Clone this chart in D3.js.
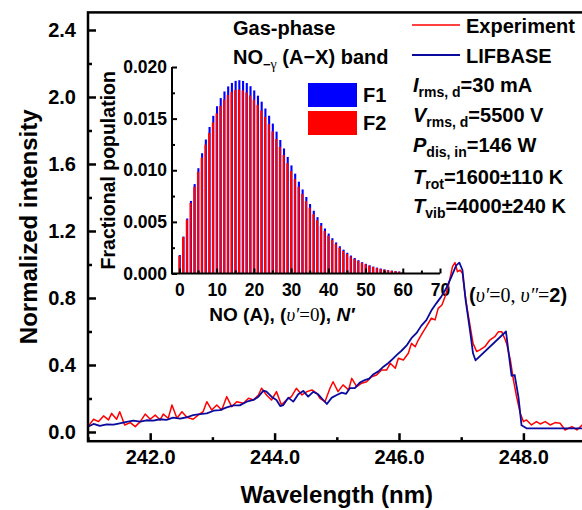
<!DOCTYPE html>
<html><head><meta charset="utf-8">
<script src="https://cdn.jsdelivr.net/npm/d3@7"></script>
<style>
body{margin:0;background:#fff;}
svg{display:block;}
text{font-family:"Liberation Sans",Arial,sans-serif;font-weight:bold;fill:#000;}
.serif{font-family:"Liberation Serif","DejaVu Serif",serif;font-weight:normal;}
</style></head><body>
<svg id="chart" width="582" height="510"></svg>
<script>
// ---- main spectrum axes ----
const wavelengthTicks = [242, 244, 246, 248];
const wavelengthMinorTicks = [241, 243, 245, 247, 249];
const intensityTicks = [0, 0.4, 0.8, 1.2, 1.6, 2.0, 2.4];
const intensityMinorTicks = [0.2, 0.6, 1.0, 1.4, 1.8, 2.2];

// ---- measured emission (Experiment) ----
const expWavelength = [241.00,241.09,241.17,241.25,241.33,241.38,241.46,241.51,241.59,241.68,241.76,241.84,241.92,242.00,242.08,242.16,242.21,242.29,242.35,242.43,242.51,242.59,242.69,242.77,242.85,242.91,242.99,243.07,243.15,243.23,243.31,243.39,243.50,243.58,243.66,243.74,243.79,243.87,243.95,244.03,244.11,244.19,244.27,244.35,244.44,244.52,244.60,244.68,244.73,244.81,244.89,244.94,245.02,245.10,245.19,245.24,245.32,245.40,245.48,245.56,245.64,245.72,245.80,245.86,245.94,245.99,246.07,246.15,246.20,246.26,246.31,246.39,246.44,246.52,246.58,246.63,246.69,246.74,246.79,246.82,246.86,246.90,246.94,246.98,247.02,247.06,247.10,247.14,247.19,247.25,247.30,247.38,247.46,247.54,247.60,247.65,247.71,247.73,247.79,247.84,247.89,247.95,248.00,248.05,248.13,248.21,248.27,248.35,248.43,248.51,248.59,248.67,248.78,248.86,248.94,249.00];
const expIntensity = [0.032,0.076,0.062,0.096,0.072,0.111,0.076,0.121,0.042,0.056,0.032,0.062,0.107,0.076,0.101,0.072,0.107,0.082,0.161,0.082,0.121,0.088,0.076,0.101,0.121,0.181,0.131,0.161,0.131,0.211,0.151,0.181,0.171,0.201,0.191,0.221,0.261,0.221,0.191,0.241,0.161,0.191,0.211,0.261,0.221,0.241,0.251,0.231,0.201,0.181,0.261,0.300,0.241,0.281,0.251,0.320,0.271,0.291,0.300,0.330,0.340,0.370,0.370,0.410,0.380,0.440,0.430,0.470,0.529,0.509,0.549,0.599,0.629,0.679,0.669,0.738,0.758,0.808,0.868,0.917,0.987,1.011,0.957,0.967,0.947,0.828,0.728,0.639,0.529,0.480,0.490,0.509,0.549,0.569,0.599,0.599,0.549,0.529,0.430,0.310,0.211,0.111,0.062,0.072,0.042,0.062,0.048,0.062,0.042,0.056,0.052,0.012,0.032,0.012,0.040,0.060];

// ---- simulated spectrum (LIFBASE) ----
const simWavelength = [241.00,241.09,241.19,241.30,241.41,241.51,241.62,241.73,241.84,241.94,242.05,242.16,242.26,242.37,242.48,242.59,242.69,242.80,242.91,243.02,243.12,243.23,243.34,243.44,243.55,243.66,243.74,243.82,243.87,243.95,244.03,244.09,244.14,244.22,244.30,244.38,244.46,244.54,244.62,244.70,244.76,244.84,244.92,245.00,245.08,245.15,245.21,245.29,245.37,245.45,245.52,245.59,245.67,245.75,245.83,245.90,245.97,246.04,246.12,246.20,246.28,246.36,246.44,246.52,246.60,246.68,246.76,246.84,246.92,246.97,247.02,247.07,247.14,247.19,247.23,247.72,247.76,247.81,247.86,247.92,247.97,248.05,249.00];
const simIntensity = [0.032,0.048,0.036,0.046,0.044,0.052,0.060,0.068,0.062,0.070,0.068,0.076,0.072,0.086,0.080,0.088,0.101,0.107,0.111,0.127,0.131,0.147,0.159,0.159,0.181,0.191,0.211,0.247,0.241,0.211,0.191,0.155,0.161,0.205,0.181,0.225,0.245,0.211,0.240,0.225,0.200,0.167,0.205,0.221,0.235,0.228,0.262,0.262,0.295,0.310,0.318,0.345,0.362,0.390,0.412,0.437,0.462,0.485,0.515,0.560,0.590,0.635,0.668,0.725,0.768,0.808,0.858,0.925,0.995,1.011,0.967,0.790,0.610,0.470,0.428,0.600,0.480,0.335,0.340,0.210,0.040,0.022,0.022];

// ---- inset: rotational population of NO(A), v'=0 ----
const rotN = d3.range(0, 61);
const popF1 = [0.00179,0.00358,0.00533,0.00703,0.00866,0.01020,0.01165,0.01298,0.01419,0.01527,0.01620,0.01699,0.01763,0.01812,0.01846,0.01866,0.01872,0.01865,0.01845,0.01814,0.01773,0.01722,0.01664,0.01598,0.01528,0.01452,0.01374,0.01293,0.01211,0.01129,0.01047,0.00967,0.00889,0.00814,0.00741,0.00673,0.00608,0.00546,0.00489,0.00436,0.00387,0.00342,0.00301,0.00264,0.00231,0.00201,0.00174,0.00150,0.00129,0.00110,0.00094,0.00080,0.00067,0.00057,0.00048,0.00040,0.00033,0.00028,0.00023,0.00019,0.00015];
const popF2 = [0.00172,0.00353,0.00522,0.00684,0.00840,0.00986,0.01123,0.01249,0.01362,0.01463,0.01551,0.01624,0.01684,0.01729,0.01760,0.01778,0.01782,0.01774,0.01754,0.01724,0.01684,0.01635,0.01579,0.01517,0.01449,0.01377,0.01302,0.01225,0.01147,0.01069,0.00992,0.00916,0.00842,0.00770,0.00702,0.00636,0.00575,0.00517,0.00463,0.00412,0.00366,0.00324,0.00285,0.00250,0.00218,0.00190,0.00164,0.00142,0.00122,0.00104,0.00089,0.00075,0.00064,0.00054,0.00045,0.00038,0.00031,0.00026,0.00022,0.00018,0.00014];
const rotTicks = [0, 10, 20, 30, 40, 50, 60, 70];
const rotMinorTicks = [5, 15, 25, 35, 45, 55, 65];
const popTicks = [0, 0.005, 0.010, 0.015, 0.020];
const popMinorTicks = [0.0025, 0.0075, 0.0125, 0.0175];

const svg = d3.select("#chart");

// main scales
const x = d3.scaleLinear().domain([241, 249]).range([88, 585.6]);
const y = d3.scaleLinear().domain([-0.055, 2.505]).range([441.2, 12.4]);

// inset scales
const ix = d3.scaleLinear().domain([-2, 70]).range([172, 440]);
const iy = d3.scaleLinear().domain([0, 0.02]).range([273.5, 67]);

// ---------- inset bars ----------
const inset = svg.append("g");
inset.selectAll("rect.f1").data(rotN).join("rect")
  .attr("x", n => ix(n) - 0.7).attr("width", 2.1)
  .attr("y", (n, i) => iy(popF1[i])).attr("height", (n, i) => iy(0) - iy(popF1[i]))
  .attr("fill", "#0000ff");
inset.selectAll("rect.f2").data(rotN).join("rect")
  .attr("x", n => ix(n) - 1.1).attr("width", 2.1)
  .attr("y", (n, i) => iy(popF2[i])).attr("height", (n, i) => iy(0) - iy(popF2[i]))
  .attr("fill", "#ff0000");

// inset axes (ticks point inward)
const ixAxis = inset.append("g").attr("transform", `translate(0,${iy(0)})`)
  .call(d3.axisBottom(ix).tickValues(rotTicks).tickSizeInner(-5).tickSizeOuter(0).tickPadding(10).tickFormat(d3.format("d")));
const ixMinor = inset.append("g").attr("transform", `translate(0,${iy(0)})`)
  .call(d3.axisBottom(ix).tickValues(rotMinorTicks).tickSizeInner(-3).tickSizeOuter(0).tickFormat(""));
const iyAxis = inset.append("g").attr("transform", `translate(${ix(-2)},0)`)
  .call(d3.axisLeft(iy).tickValues(popTicks).tickSizeInner(-5).tickSizeOuter(0).tickPadding(5).tickFormat(d3.format(".3f")));
const iyMinor = inset.append("g").attr("transform", `translate(${ix(-2)},0)`)
  .call(d3.axisLeft(iy).tickValues(popMinorTicks).tickSizeInner(-3).tickSizeOuter(0).tickFormat(""));
[ixAxis, ixMinor, iyAxis, iyMinor].forEach(g => {
  g.select(".domain").remove();
  g.selectAll(".tick line").attr("stroke", "#000").attr("stroke-width", 2);
  g.selectAll(".tick text").attr("font-size", 17.5).attr("font-family", null).attr("fill", "#000");
});
inset.append("path")
  .attr("d", `M${ix(-2)},${iy(0.02)}V${iy(0)}H${ix(70)}`)
  .attr("fill", "none").attr("stroke", "#000").attr("stroke-width", 2);

inset.append("text").attr("transform", `translate(115,${(iy(0) + iy(0.02)) / 2}) rotate(-90)`)
  .attr("text-anchor", "middle").attr("font-size", 19.5).text("Fractional population");
const ixTitle = inset.append("text").attr("x", 282).attr("y", 321)
  .attr("text-anchor", "middle").attr("font-size", 19);
ixTitle.append("tspan").text("NO (A), (");
ixTitle.append("tspan").attr("class", "serif").attr("font-style", "italic").text("υ′");
ixTitle.append("tspan").attr("class", "serif").text("=0");
ixTitle.append("tspan").text("), ");
ixTitle.append("tspan").attr("font-style", "italic").text("N′");

// F1 / F2 swatches
const swatches = [{label: "F1", color: "#0000ff", y: 83}, {label: "F2", color: "#ff0000", y: 111}];
swatches.forEach(s => {
  svg.append("rect").attr("x", 308).attr("y", s.y).attr("width", 49).attr("height", 24).attr("fill", s.color);
  svg.append("text").attr("x", 363).attr("y", s.y + 19).attr("font-size", 20).text(s.label);
});

// band title
svg.append("text").attr("x", 233).attr("y", 35).attr("font-size", 20).text("Gas-phase");
const band = svg.append("text").attr("x", 233).attr("y", 64).attr("font-size", 20);
band.append("tspan").text("NO");
band.append("tspan").attr("font-size", 13).attr("dy", 5).text("−");
band.append("tspan").attr("class", "serif").attr("font-size", 14).text("γ");
band.append("tspan").attr("dy", -5).text(" (A−X) band");

// ---------- main plot ----------
svg.append("clipPath").attr("id", "plotClip").append("rect")
  .attr("x", x(241)).attr("y", y(2.505)).attr("width", x(249) - x(241)).attr("height", y(-0.055) - y(2.505));

const line = d3.line().x(d => x(d[0])).y(d => y(d[1]));
const expData = expWavelength.map((w, i) => [w, expIntensity[i]]);
const simData = simWavelength.map((w, i) => [w, simIntensity[i]]);
const curves = svg.append("g").attr("clip-path", "url(#plotClip)");
curves.append("path").datum(expData).attr("d", line)
  .attr("fill", "none").attr("stroke", "#ff0000").attr("stroke-width", 1.5).attr("stroke-linejoin", "round");
curves.append("path").datum(simData).attr("d", line)
  .attr("fill", "none").attr("stroke", "#0a0a9e").attr("stroke-width", 1.8).attr("stroke-linejoin", "round");

// axes with inward ticks
const xAxis = svg.append("g").attr("transform", `translate(0,${y(-0.055)})`)
  .call(d3.axisBottom(x).tickValues(wavelengthTicks).tickSizeInner(-8).tickSizeOuter(0).tickPadding(9).tickFormat(d3.format(".1f")));
const xMinor = svg.append("g").attr("transform", `translate(0,${y(-0.055)})`)
  .call(d3.axisBottom(x).tickValues(wavelengthMinorTicks).tickSizeInner(-4).tickSizeOuter(0).tickFormat(""));
const yAxis = svg.append("g").attr("transform", `translate(${x(241)},0)`)
  .call(d3.axisLeft(y).tickValues(intensityTicks).tickSizeInner(-8).tickSizeOuter(0).tickPadding(12).tickFormat(d3.format(".1f")));
const yMinor = svg.append("g").attr("transform", `translate(${x(241)},0)`)
  .call(d3.axisLeft(y).tickValues(intensityMinorTicks).tickSizeInner(-4).tickSizeOuter(0).tickFormat(""));
[xAxis, xMinor, yAxis, yMinor].forEach(g => {
  g.select(".domain").remove();
  g.selectAll(".tick line").attr("stroke", "#000").attr("stroke-width", 2.5);
  g.selectAll(".tick text").attr("font-size", 20).attr("font-family", null).attr("fill", "#000");
});
svg.append("rect").attr("x", x(241)).attr("y", y(2.505)).attr("width", x(249) - x(241)).attr("height", y(-0.055) - y(2.505))
  .attr("fill", "none").attr("stroke", "#000").attr("stroke-width", 2.5);

svg.append("text").attr("x", (x(241) + x(249)) / 2).attr("y", 503).attr("text-anchor", "middle")
  .attr("font-size", 24).text("Wavelength (nm)");
svg.append("text").attr("transform", `translate(37,${(y(-0.055) + y(2.505)) / 2}) rotate(-90)`)
  .attr("text-anchor", "middle").attr("font-size", 24).text("Normalized intensity");

// legend
const legend = [{label: "Experiment", color: "#ff0000", w: 1.5, y: 25}, {label: "LIFBASE", color: "#0a0a9e", w: 1.8, y: 55}];
legend.forEach(l => {
  svg.append("line").attr("x1", 412).attr("x2", 460).attr("y1", l.y).attr("y2", l.y)
    .attr("stroke", l.color).attr("stroke-width", l.w);
  svg.append("text").attr("x", 466).attr("y", l.y + 8).attr("font-size", 20).text(l.label);
});

// discharge conditions and fitted temperatures
const conditions = [
  {sym: "I", sub: "rms, d", val: "=30 mA", y: 92},
  {sym: "V", sub: "rms, d", val: "=5500 V", y: 122},
  {sym: "P", sub: "dis, in", val: "=146 W", y: 152},
  {sym: "T", sub: "rot", val: "=1600±110 K", y: 184},
  {sym: "T", sub: "vib", val: "=4000±240 K", y: 213}
];
conditions.forEach(c => {
  const t = svg.append("text").attr("x", 413).attr("y", c.y).attr("font-size", 20);
  t.append("tspan").attr("font-style", "italic").text(c.sym);
  t.append("tspan").attr("font-size", 14).attr("dy", 5).text(c.sub);
  t.append("tspan").attr("dy", -5).text(c.val);
});

// band assignment
const bandLabel = svg.append("text").attr("x", 469).attr("y", 302).attr("font-size", 20);
bandLabel.append("tspan").text("(");
bandLabel.append("tspan").attr("class", "serif").attr("font-style", "italic").text("υ′");
bandLabel.append("tspan").attr("class", "serif").text("=0, ");
bandLabel.append("tspan").attr("class", "serif").attr("font-style", "italic").text("υ″");
bandLabel.append("tspan").attr("class", "serif").text("=");
bandLabel.append("tspan").text("2)");
</script>
</body></html>
